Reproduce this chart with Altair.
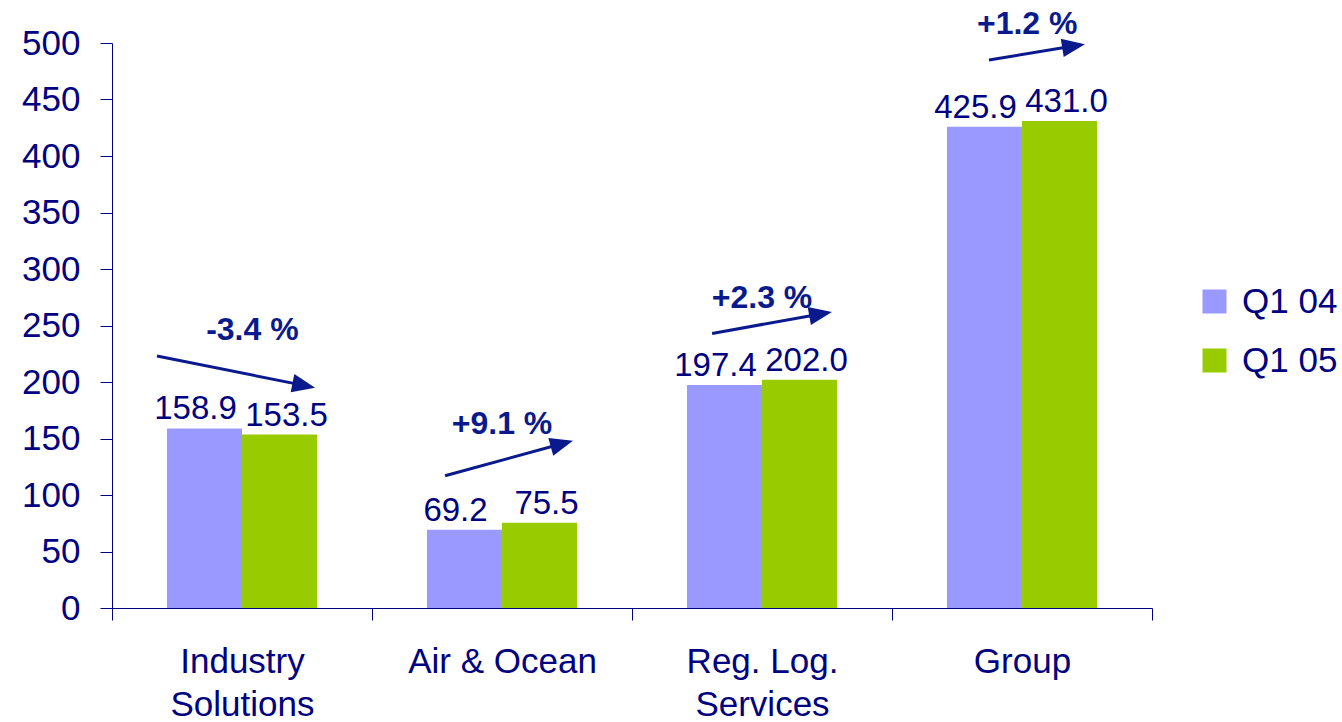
import math
import altair as alt
import pandas as pd

categories = ["Industry Solutions", "Air & Ocean", "Reg. Log. Services", "Group"]
series = ["Q1 04", "Q1 05"]
q1_04 = [158.9, 69.2, 197.4, 425.9]
q1_05 = [153.5, 75.5, 202.0, 431.0]
y_ticks = list(range(0, 501, 50))

# change annotations (x in category units: 0 = left edge of first group)
pct_labels = ["-3.4 %", "+9.1 %", "+2.3 %", "+1.2 %"]
pct_x = [0.54, 1.50, 2.50, 3.52]
pct_y = [246, 163, 274, 517]
arrow_x0 = [0.173, 1.281, 2.308, 3.373]
arrow_y0 = [223, 117, 243, 485]
arrow_x1 = [0.781, 1.773, 2.769, 3.742]
arrow_y1 = [195, 148, 262, 499]

NAVY = "#000080"
ARROW = "#0A1A8C"
FONT = "Liberation Sans"
W, H = 1040, 565
PX_X = W / 4.0
PX_Y = H / 500.0
HEAD = 23

rows = []
for c, a, b in zip(categories, q1_04, q1_05):
    rows.append({"cat": c, "series": series[0], "value": a, "label": f"{a:.1f}"})
    rows.append({"cat": c, "series": series[1], "value": b, "label": f"{b:.1f}"})
bars_df = pd.DataFrame(rows)

arr_rows = []
for x0, y0, x1, y1 in zip(arrow_x0, arrow_y0, arrow_x1, arrow_y1):
    dxp = (x1 - x0) * PX_X
    dyp = -(y1 - y0) * PX_Y
    L = math.hypot(dxp, dyp)
    ux, uy = dxp / L, dyp / L
    hx = x1 - ux * HEAD / 2 / PX_X
    hy = y1 + uy * HEAD / 2 / PX_Y
    ang = math.degrees(math.atan2(dyp, dxp)) % 360
    arr_rows.append({"x0": x0, "y0": y0, "hx": hx, "hy": hy, "ang": ang})
arr_df = pd.DataFrame(arr_rows)
pct_df = pd.DataFrame({"x": pct_x, "y": pct_y, "t": pct_labels})

label_expr = ("datum.label == 'Industry Solutions' ? ['Industry', 'Solutions'] : "
              "datum.label == 'Reg. Log. Services' ? ['Reg. Log.', 'Services'] : datum.label")

yscale = alt.Scale(domain=[0, 500], nice=False)

x_enc = alt.X("cat:N", sort=categories,
              scale=alt.Scale(paddingInner=0, paddingOuter=0),
              axis=alt.Axis(title=None, labelExpr=label_expr, labelFontSize=35,
                            labelColor=NAVY, labelFont=FONT, labelAngle=0,
                            labelLineHeight=43, labelPadding=24, labelLimit=400,
                            tickBand="extent",
                            tickSize=12, tickColor=NAVY, domainColor=NAVY,
                            ticks=True, grid=False))
xoff = alt.XOffset("series:N", sort=series,
                   scale=alt.Scale(paddingInner=0, paddingOuter=0.733))
y_axis = alt.Axis(title=None, values=y_ticks, labelFontSize=35,
                  labelColor=NAVY, labelFont=FONT, labelPadding=20,
                  tickSize=12, tickColor=NAVY, domainColor=NAVY, grid=False)
y_enc = alt.Y("value:Q", scale=yscale, axis=y_axis)

base = alt.Chart(bars_df).encode(x=x_enc, xOffset=xoff, y=y_enc)

bars = base.mark_bar(stroke=None).encode(
    color=alt.Color("series:N", sort=series,
                    scale=alt.Scale(domain=series, range=["#9999FF", "#99CC00"]),
                    legend=alt.Legend(title=None, orient="none", legendX=1085, legendY=241,
                                      symbolType="square", symbolSize=576,
                                      symbolStrokeWidth=0, labelFontSize=35,
                                      labelColor=NAVY, labelFont=FONT, labelOffset=10,
                                      rowPadding=23, padding=0))
)
vals_a = base.mark_text(baseline="alphabetic", dy=-9, dx=-9, fontSize=33, font=FONT,
                        color=NAVY).encode(text="label:N").transform_filter(
    alt.datum.series == series[0])
vals_b = base.mark_text(baseline="alphabetic", dy=-9, dx=7, fontSize=33, font=FONT,
                        color=NAVY).encode(text="label:N").transform_filter(
    alt.datum.series == series[1])

bar_layer = alt.layer(bars, vals_a, vals_b)

xq = alt.Scale(domain=[0, 4], nice=False, zero=False)
lines = alt.Chart(arr_df).mark_rule(color=ARROW, strokeWidth=3).encode(
    x=alt.X("x0:Q", scale=xq, axis=None),
    x2="hx:Q",
    y=alt.Y("y0:Q", scale=yscale),
    y2="hy:Q",
)
heads = alt.Chart(arr_df).mark_point(shape="M-1,-0.8L1,0L-1,0.8Z", filled=True,
                                     color=ARROW, opacity=1, size=HEAD * HEAD).encode(
    x=alt.X("hx:Q", scale=xq, axis=None),
    y=alt.Y("hy:Q", scale=yscale),
    angle=alt.Angle("ang:Q", scale=None),
)
pcts = alt.Chart(pct_df).mark_text(fontSize=32, fontWeight="bold", font=FONT,
                                   color=ARROW, baseline="middle", align="center").encode(
    x=alt.X("x:Q", scale=xq, axis=None),
    y=alt.Y("y:Q", scale=yscale),
    text="t:N",
)
ann = alt.layer(lines, heads, pcts)

chart = alt.layer(bar_layer, ann).resolve_scale(x="independent").properties(
    width=W, height=H,
    autosize=alt.AutoSizeParams(type="none"),
    padding={"left": 112, "top": 43, "right": 190, "bottom": 114},
    background="white",
).configure_view(stroke=None)

chart.save("out.html", embed_options={"renderer": "svg", "actions": False})
